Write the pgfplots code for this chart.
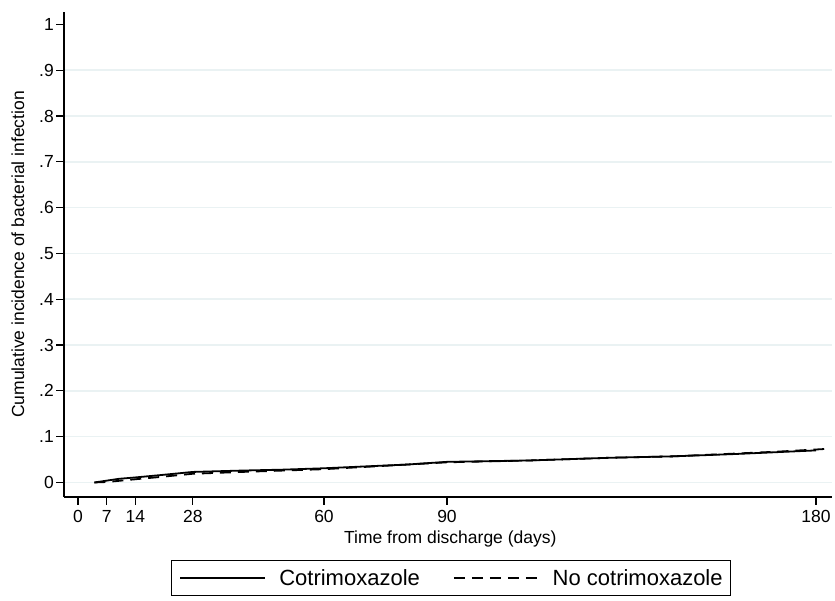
\documentclass[border=0pt]{standalone}
\usepackage{pgfplots}
\pgfplotsset{compat=1.18}
\usepackage{fontspec}
\setmainfont{Liberation Sans}
\definecolor{gridc}{RGB}{234,242,243}

% Cumulative incidence by treatment group (days from discharge)
\pgfplotstableread{
t     ci
4     0.000
7     0.004
10    0.008
14    0.011
20    0.016
28    0.023
40    0.026
50    0.028
60    0.031
70    0.035
80    0.039
90    0.045
110   0.048
130   0.054
145   0.057
160   0.062
170   0.066
180   0.070
}\cotri
\pgfplotstableread{
t     ci
4     0.000
7     0.001
14    0.007
20    0.012
28    0.019
40    0.023
50    0.026
60    0.029
70    0.034
80    0.039
90    0.044
110   0.048
130   0.054
145   0.057
160   0.063
170   0.067
182   0.073
}\nocotri

\begin{document}
\begin{tikzpicture}
\useasboundingbox (0pt,0pt) rectangle (835pt,601pt);
\begin{axis}[
  at={(64pt,104pt)}, anchor=south west,
  scale only axis, width=768pt, height=485pt,
  xmin=-3.41, xmax=183.9, ymin=-0.0317, ymax=1.027,
  axis x line*=bottom, axis y line*=left,
  axis line style={line width=1.2pt},
  font=\fontsize{17.5}{20}\selectfont,
  /pgf/number format/assume math mode=true,
  xtick={0,7,14,28,60,90,180},
  xticklabels={0,7,14,28,60,90,180},
  ytick={0,0.1,0.2,0.3,0.4,0.5,0.6,0.7,0.8,0.9},
  yticklabels={0,.1,.2,.3,.4,.5,.6,.7,.8,.9},
  extra y ticks={1}, extra y tick labels={1},
  extra tick style={grid=none},
  tick align=outside, major tick length=8pt,
  tick style={line width=1.2pt, black},
  ymajorgrids, grid style={gridc, line width=1.5pt},
  xticklabel style={inner sep=0pt, anchor=north, yshift=-5pt},
  yticklabel style={inner sep=0pt, anchor=east, xshift=-2pt},
  xlabel={Time from discharge (days)},
  ylabel={Cumulative incidence of bacterial infection},
  xlabel style={at={(axis description cs:0.503,-0.0866)}, anchor=center, inner sep=0pt},
  ylabel style={at={(axis description cs:-0.0599,0.5)}, anchor=center, rotate=0, inner sep=0pt},
  legend columns=2,
  legend image code/.code={\draw[#1] (0pt,0pt) -- (85pt,0pt);},
  legend style={
    at={(axis description cs:0.504,-0.130)}, anchor=north,
    draw=black, line width=1pt,
    font=\fontsize{22}{26}\selectfont,
    inner xsep=8pt, inner ysep=9pt,
    column sep=13pt,
    /tikz/every even column/.append style={column sep=33pt},
    nodes={inner sep=0pt, anchor=west},
  },
]
\addplot[black, line width=1.8pt] table[x=t, y=ci] {\cotri};
\addlegendentry{Cotrimoxazole}
\addplot[black, line width=1.8pt, dash pattern=on 11pt off 7pt] table[x=t, y=ci] {\nocotri};
\addlegendentry{No cotrimoxazole}
\end{axis}
\end{tikzpicture}
\end{document}
